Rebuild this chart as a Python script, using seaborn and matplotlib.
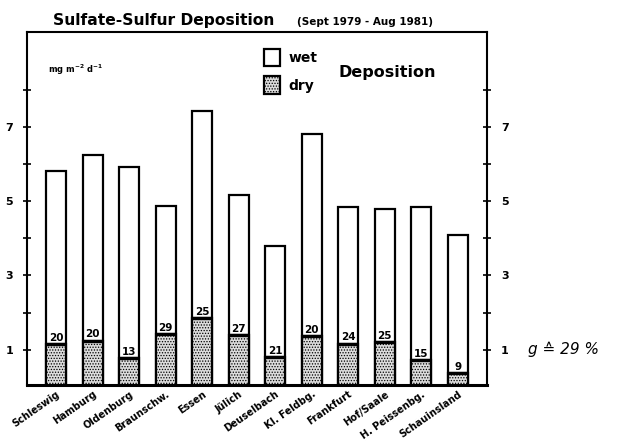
import matplotlib
matplotlib.use("Agg")
import matplotlib.pyplot as plt
from matplotlib.patches import Patch
import seaborn as sns
import pandas as pd

# Stations (Sept 1979 - Aug 1981)
stations = ["Schleswig", "Hamburg", "Oldenburg", "Braunschw.", "Essen", "Jülich",
            "Deuselbach", "Kl. Feldbg.", "Frankfurt", "Hof/Saale", "H. Peissenbg.",
            "Schauinsland"]
# total (wet + dry) sulfate-sulfur deposition, mg m-2 d-1
total_dep = [5.8, 6.23, 5.91, 4.88, 7.42, 5.15, 3.8, 6.8, 4.85, 4.8, 4.85, 4.1]
# dry share of the total, percent
dry_pct = [20, 20, 13, 29, 25, 27, 21, 20, 24, 25, 15, 9]
mean_label = "g ≙ 29 %"

dry_dep = [t * p / 100 for t, p in zip(total_dep, dry_pct)]
df = pd.DataFrame({"station": stations, "total": total_dep, "dry": dry_dep, "pct": dry_pct})

sns.set_style("white")
plt.rcParams["font.family"] = ["DejaVu Sans"]
plt.rcParams["font.weight"] = "bold"
plt.rcParams["text.color"] = "black"
plt.rcParams["xtick.color"] = "black"
plt.rcParams["ytick.color"] = "black"
plt.rcParams["hatch.color"] = "#6a6a6a"
plt.rcParams["hatch.linewidth"] = 0.6

fig = plt.figure(figsize=(6.26, 4.41), dpi=100)
ax = fig.add_axes([27 / 626, 1 - 385 / 441, 460 / 626, 353 / 441])

bar_w = 0.55
sns.barplot(data=df, x="station", y="total", color="white", saturation=1,
            edgecolor="black", linewidth=1.6, width=bar_w, ax=ax)
n_wet = len(ax.patches)
sns.barplot(data=df, x="station", y="dry", color="#dcdcdc", saturation=1,
            edgecolor="black", linewidth=1.6, width=bar_w, ax=ax)
for p in ax.patches[n_wet:]:
    p.set_hatch("......")
    # heavy line along the top of each dry bar
    ax.plot([p.get_x(), p.get_x() + p.get_width()], [p.get_height()] * 2,
            color="black", lw=2.4, solid_capstyle="butt", zorder=4)

for i, (d, pc) in enumerate(zip(dry_dep, dry_pct)):
    ax.text(i, d + 0.03, str(pc), ha="center", va="bottom", fontsize=7.5,
            fontweight="bold", color="black", zorder=5)

ax.set_xlim(-0.8, 11.8)
ax.set_ylim(0.05, 9.55)
ax.set_yticks(range(1, 9))
ax.set_yticklabels(["1", "", "3", "", "5", "", "7", ""], fontsize=8, fontweight="bold",
                   color="black")
ax.tick_params(axis="y", which="both", left=True, right=True, labelleft=True,
               labelright=True, direction="inout", length=6, width=1.2, pad=7,
               colors="black")
ax.tick_params(axis="x", length=0, pad=3, colors="black")
ax.set_xticks(range(len(stations)))
ax.set_xticklabels(stations, rotation=35, ha="right", rotation_mode="anchor",
                   fontsize=7, fontweight="bold", color="black")
ax.set_xlabel("")
ax.set_ylabel("")
for side in ["left", "right", "top"]:
    ax.spines[side].set_linewidth(1.5)
    ax.spines[side].set_color("black")
ax.spines["bottom"].set_linewidth(2.2)
ax.spines["bottom"].set_color("black")

# legend
handles = [Patch(facecolor="white", edgecolor="black", linewidth=1.6, label="wet"),
           Patch(facecolor="#dcdcdc", edgecolor="black", linewidth=1.6, hatch="......", label="dry")]
leg = ax.legend(handles=handles, loc="upper left", bbox_to_anchor=(231 / 460, 1 - 11 / 353),
                frameon=False, handlelength=1.2, handleheight=1.6, handletextpad=0.6,
                labelspacing=0.7, prop={"size": 10, "weight": "bold"}, borderaxespad=0)
for t in leg.get_texts():
    t.set_color("black")
fig.text(338 / 626, 1 - 73 / 441, "Deposition", fontsize=11.5, fontweight="bold",
         va="center", ha="left", color="black")
fig.text(48 / 626, 1 - 70 / 441, r"mg m$^{-2}$ d$^{-1}$", fontsize=6,
         fontweight="bold", va="center", ha="left", color="black")

# title
fig.text(53 / 626, 1 - 21 / 441, "Sulfate-Sulfur Deposition", fontsize=11.2,
         fontweight="bold", va="center", ha="left", color="black")
fig.text(297 / 626, 1 - 22 / 441, "(Sept 1979 - Aug 1981)", fontsize=7.5,
         fontweight="bold", va="center", ha="left", color="black")

# mean dry share
fig.text(528 / 626, 1 - 349 / 441, mean_label, fontsize=11, fontstyle="italic",
         fontweight="normal", va="center", ha="left", color="black",
         family=["DejaVu Sans", "Noto Sans"])

fig.savefig("out.png", dpi=100)
